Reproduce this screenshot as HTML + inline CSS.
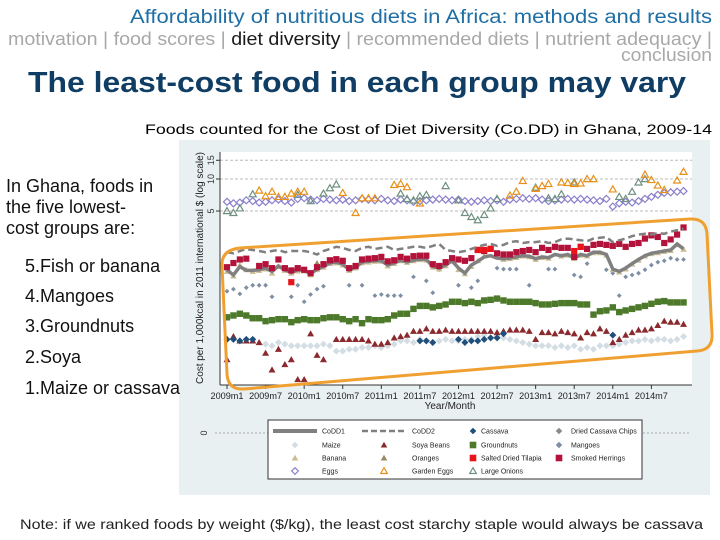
<!DOCTYPE html>
<html><head><meta charset="utf-8"><style>
html,body{margin:0;padding:0;background:#fff;}
svg{display:block;font-family:"Liberation Sans",sans-serif;}
</style></head><body>
<svg id="slide" width="720" height="540" viewBox="0 0 720 540">
  <text x="712" y="23" text-anchor="end" font-size="19" fill="#1f6fa5" textLength="582" lengthAdjust="spacingAndGlyphs">Affordability of nutritious diets in Africa: methods and results</text>
  <text x="8" y="45" font-size="18" fill="#a8a8a8" textLength="704" lengthAdjust="spacingAndGlyphs">motivation | food scores | <tspan fill="#1a1a1a">diet diversity</tspan> | recommended diets | nutrient adequacy |</text>
  <text x="712" y="61" text-anchor="end" font-size="18" fill="#a8a8a8" textLength="91" lengthAdjust="spacingAndGlyphs">conclusion</text>
  <text x="28" y="92" font-size="29" font-weight="bold" fill="#0f3d63" textLength="658" lengthAdjust="spacingAndGlyphs">The least-cost food in each group may vary</text>
  <text x="145" y="134" font-size="14" fill="#000" textLength="567" lengthAdjust="spacingAndGlyphs">Foods counted for the Cost of Diet Diversity (Co.DD) in Ghana, 2009-14</text>

  <rect x="179" y="140" width="531" height="355" fill="#e9f0f2"/>
  <rect x="220" y="152" width="472" height="233" fill="#ffffff"/>
  <g id="grid"></g>
  <line x1="220" y1="152" x2="220" y2="385" stroke="#333" stroke-width="1"/>
  <line x1="220" y1="385" x2="692" y2="385" stroke="#333" stroke-width="1"/>
  <text transform="translate(203,268) rotate(-90)" text-anchor="middle" font-size="10" fill="#222" textLength="232" lengthAdjust="spacingAndGlyphs">Cost per 1,000kcal in 2011 international $ (log scale)</text>
  <text x="450" y="409" text-anchor="middle" font-size="10" fill="#222">Year/Month</text>
  <g id="xticks"></g>
  <g id="series"></g>

  <line x1="215" y1="433" x2="690" y2="433" stroke="#aaa" stroke-dasharray="2,2"/>
  <text transform="translate(207,433) rotate(-90)" text-anchor="middle" font-size="9" fill="#333">0</text>
  <g id="legend">
    <rect x="268" y="420" width="374" height="59" fill="#fff" stroke="#333" stroke-width="1"/>
  </g>

  <path d="M 240,248 L 690,219 Q 706,218 707,234 L 712,334 Q 713,350 697,351 L 244,389 Q 228,390 227,374 L 222,266 Q 221,250 240,248 Z" fill="none" stroke="#f0a030" stroke-width="3"/>

  <g font-size="18" fill="#111">
    <text x="6" y="192">In Ghana, foods in</text>
    <text x="6" y="213">the five lowest-</text>
    <text x="6" y="234">cost groups are:</text>
    <text x="25" y="272">5.Fish or banana</text>
    <text x="25" y="302">4.Mangoes</text>
    <text x="25" y="332">3.Groundnuts</text>
    <text x="25" y="363">2.Soya</text>
    <text x="25" y="394">1.Maize or cassava</text>
  </g>
  <text x="20" y="529" font-size="14" fill="#222" textLength="683" lengthAdjust="spacingAndGlyphs">Note: if we ranked foods by weight ($/kg), the least cost starchy staple would always be cassava</text>
</svg>
<script>
const _ = null;
const xTickLabels = ["2009m1","2009m7","2010m1","2010m7","2011m1","2011m7","2012m1","2012m7","2013m1","2013m7","2014m1","2014m7"];
const yTicks = [5, 10, 15];
const codd1 = [1.40,1.25,1.50,1.38,1.38,1.40,1.45,1.35,1.52,1.40,1.32,1.40, 1.38,1.28,1.42,1.50,1.62,1.65,1.58,1.40,1.48,1.65,1.68,1.70, 1.70,1.55,1.62,1.72,1.66,1.72,1.76,1.75,1.50,1.45,1.55,1.70, 1.45,1.30,1.55,1.68,1.85,1.90,1.80,1.78,1.80,1.85,1.90,1.88, 1.78,1.85,1.82,1.95,1.90,1.95,1.80,1.95,1.90,2.05,2.05,1.95, 1.42,1.35,1.45,1.60,1.75,1.90,2.00,2.05,2.10,2.15,2.45,2.20];
const codd2 = [2.05,2.00,2.10,2.20,2.15,2.10,2.05,2.10,2.15,2.05,2.10,2.10, 2.10,2.05,1.95,2.10,2.20,2.30,2.25,2.15,2.10,2.25,2.30,2.20, 2.25,2.30,2.15,2.20,2.25,2.30,2.30,2.25,2.35,2.45,2.15,2.10, 2.05,2.10,2.20,2.30,2.40,2.45,2.35,2.40,2.55,2.60,2.50,2.55, 2.55,2.60,2.50,2.55,2.70,2.75,2.70,2.65,2.60,2.75,2.80,2.85, 2.55,2.65,2.75,2.90,3.00,3.05,3.00,3.10,3.05,3.20,3.30,3.40];
const banana = [1.35,1.22,1.55,1.40,1.35,1.38,1.42,1.30,1.50,1.38,1.30,1.36, 1.36,1.25,1.40,1.48,1.60,1.62,1.55,1.38,1.45,1.62,1.65,1.68, 1.68,1.52,1.60,1.70,1.64,1.70,1.74,1.72,1.48,1.42,1.52,1.68, 1.40,1.28,1.50,1.70,1.88,2.20,1.85,1.75,1.78,1.82,1.88,1.85, 1.75,1.82,1.80,2.25,1.88,1.92,1.78,1.92,1.88,2.02,2.02,1.92, 1.40,1.33,1.42,1.58,1.72,1.88,1.98,2.02,2.08,2.12,2.40,2.18];
const herrings = [1.48,1.62,1.75,1.78,_,1.52,1.58,1.45,1.75,1.45,1.38,1.45, 1.40,1.30,1.48,1.58,1.72,1.76,1.70,1.45,1.52,1.75,1.78,1.80, 1.85,1.68,1.72,1.85,1.78,1.88,1.90,1.90,1.58,1.52,1.65,1.80, 1.75,1.70,1.80,2.15,2.10,2.20,2.00,1.95,1.95,2.05,2.10,2.15, 2.05,2.25,2.15,2.30,2.25,2.25,1.85,2.30,2.20,2.40,2.45,2.40, 2.35,2.45,2.30,2.45,2.50,2.75,2.95,2.85,2.50,2.70,3.00,3.50];
const tilapia = [_,_,_,_,_,_,_,_,_,_,1.07,_, _,_,_,_,_,_,_,_,_,_,_,_, _,_,_,_,_,_,_,_,_,_,_,_, _,_,_,2.15,2.15,2.20,_,_,_,_,_,_, _,_,_,_,_,_,2.10,2.30,_,_,_,_, _,_,_,_,_,_,_,_,_,_,_,_];
const mangoes = [0.88,0.92,0.83,0.95,1.00,1.00,1.00,0.78,_,_,0.78,1.00, 0.70,0.82,0.92,0.98,_,_,_,1.00,_,1.00,_,0.80, 0.82,0.80,0.80,0.80,_,1.20,_,1.10,0.85,1.40,_,_, 1.00,_,0.95,1.10,_,_,1.45,1.42,1.42,1.42,_,1.00, _,_,1.42,1.42,_,_,1.25,1.20,1.60,_,_,1.40, 1.30,0.80,1.20,1.25,1.30,1.40,1.55,1.65,1.70,1.80,1.75,1.75];
const groundnuts = [0.50,0.52,0.54,0.52,0.49,0.49,0.46,0.47,0.48,0.48,0.45,0.47, 0.48,0.47,0.47,0.49,0.50,0.50,0.48,0.46,0.48,0.44,0.48,0.47, 0.47,0.48,0.52,0.54,0.54,0.60,0.64,0.64,0.62,0.64,0.66,0.70, 0.70,0.68,0.70,0.68,0.72,0.73,0.75,0.72,0.70,0.70,0.70,0.70, 0.68,0.66,0.66,0.67,0.68,0.68,0.68,0.66,0.66,0.53,0.57,0.58, 0.62,0.56,0.58,0.60,0.62,0.64,0.67,0.70,0.71,0.69,0.69,0.69];
const soya = [0.20,0.33,0.30,0.30,0.30,0.29,0.23,0.16,0.25,0.18,0.20,0.13, 0.13,0.35,0.22,0.20,_,0.31,0.31,0.31,0.31,0.31,0.30,0.28, 0.28,0.29,0.32,0.33,0.34,0.37,0.37,0.39,0.37,0.37,0.38,0.37, 0.37,0.37,0.37,0.37,0.37,0.37,0.36,0.37,0.38,0.38,0.38,0.37, 0.31,0.36,0.36,0.35,0.37,0.36,0.35,0.32,0.36,0.35,0.39,0.37, 0.29,0.31,0.34,0.36,0.38,0.38,0.39,0.42,0.46,0.45,0.45,0.43];
const maize = [_,_,_,_,_,_,0.28,0.27,0.29,0.28,0.27,0.27, 0.27,0.27,0.27,0.28,0.27,0.24,0.24,0.25,0.25,0.26,0.26,0.27, 0.26,0.27,0.28,0.30,0.30,0.29,0.31,0.30,0.29,0.30,0.31,0.30, 0.30,0.31,0.31,0.33,0.34,0.32,0.33,0.32,0.31,0.30,0.29,0.28, 0.27,0.27,0.27,0.26,0.27,0.26,0.27,0.25,0.26,0.25,0.27,0.27, 0.27,0.28,0.29,0.30,0.30,0.31,0.30,0.31,0.31,0.30,0.31,0.33];
const cassava = [0.31,0.31,0.30,0.31,0.31,_,_,_,_,_,_,_, _,_,_,_,_,_,_,_,_,_,_,_, _,_,_,_,_,_,0.30,0.30,0.29,_,_,_, 0.31,0.29,0.30,0.30,0.31,0.32,0.32,0.35,_,_,_,_, _,_,_,_,_,_,_,_,_,_,_,_, 0.34,_,_,_,_,_,_,_,_,_,_,_];
const oranges = [_,_,_,_,_,_,_,_,_,_,_,_, _,_,1.62,_,_,_,_,_,_,_,_,_, _,_,_,_,_,_,_,_,_,_,_,_, _,_,_,_,_,_,_,_,_,_,_,_, _,_,_,_,_,_,_,_,_,_,_,_, _,_,_,_,_,_,_,_,_,_,_,_];
const eggs = [6.1,5.9,6.0,6.3,6.2,6.0,6.1,6.3,6.4,6.2,6.0,6.5, 6.6,6.4,6.3,6.5,6.4,6.3,6.4,6.2,6.3,6.5,6.4,6.3, 6.5,6.3,6.2,6.4,6.3,6.1,6.2,6.3,6.4,6.5,6.4,6.3, 6.4,6.2,6.1,6.2,6.3,6.2,6.3,6.1,6.4,6.5,6.6,6.5, 6.6,6.4,6.2,6.3,6.4,6.5,6.4,6.5,6.4,6.3,6.2,6.5, 5.5,5.9,6.1,6.0,6.2,6.5,6.8,7.1,7.4,7.5,7.6,7.7];
const gardenEggs = [_,_,_,_,_,7.8,6.9,7.6,6.8,6.8,7.3,7.6, 7.6,_,_,_,_,_,7.4,_,4.8,6.6,6.6,6.6, _,_,8.8,9.0,8.4,_,5.9,_,_,_,_,_, _,_,_,_,_,_,_,_,7.0,7.6,9.6,_, 8.1,8.6,9.0,_,9.3,9.2,9.0,9.1,10.0,10.0,_,_, 8.0,_,_,_,_,11.0,9.8,8.7,7.9,_,9.7,11.7];
const largeOnions = [5.0,4.8,5.3,_,7.2,_,_,_,_,_,_,7.1, _,6.2,_,7.3,8.2,8.9,_,_,_,_,_,_, _,_,_,7.3,6.5,6.3,6.9,7.1,_,_,8.6,_, 6.3,4.8,4.4,4.1,4.6,5.3,6.5,_,_,_,_,_, 8.3,_,6.6,6.5,7.2,_,9.3,_,_,_,_,_, _,6.8,6.5,7.6,9.3,10.0,_,_,_,_,_,_];

const NS = "http://www.w3.org/2000/svg";
function xScale(i){ return 227 + i * 6.43; }
function yScale(v){ return 211 - 32 * Math.log2(v / 5); }
function mk(tag, attrs, parent){ const e = document.createElementNS(NS, tag); for (const k in attrs) e.setAttribute(k, attrs[k]); parent.appendChild(e); return e; }

const grid = document.getElementById('grid');
yTicks.forEach(function(t){
  const y = yScale(t);
  const gl = mk('line', {x1:220, x2:692, y1:y, y2:y, stroke:'#bbb', 'stroke-dasharray':'3,2'}, grid);
  
  
  const tk = mk('line', {x1:216, x2:220, y1:y, y2:y, stroke:'#333'}, grid);
  
  
  const lb = mk('text', {transform:'translate(214,' + y + ') rotate(-90)', 'text-anchor':'middle', 'font-size':'9', fill:'#333'}, grid);
  lb.textContent = t;
  
  
});
const xt = document.getElementById('xticks');
xTickLabels.forEach(function(l, k){
  const x = xScale(k * 6);
  const tk = mk('line', {x1:x, x2:x, y1:385, y2:389, stroke:'#333'}, xt);
  
  
  const t = mk('text', {x:x, y:399, 'text-anchor':'middle', 'font-size':'9', fill:'#222', textLength:'33', lengthAdjust:'spacingAndGlyphs'}, xt);
  t.textContent = l;
  
  
});

function marker(g, shape, cx, cy, s, color, hollow){
  let e;
  const fill = hollow ? 'none' : color;
  const sw = hollow ? 1.2 : 0;
  if (shape === 'diamond') e = mk('polygon', {points:(cx)+','+(cy-s)+' '+(cx+s)+','+cy+' '+cx+','+(cy+s)+' '+(cx-s)+','+cy, fill:fill, stroke:color, 'stroke-width':sw}, g);
  else if (shape === 'triangle') e = mk('polygon', {points:cx+','+(cy-s)+' '+(cx+s)+','+(cy+s*0.75)+' '+(cx-s)+','+(cy+s*0.75), fill:fill, stroke:color, 'stroke-width':sw}, g);
  else e = mk('rect', {x:cx-s, y:cy-s, width:2*s, height:2*s, fill:fill}, g);
  return e;
}
const sg = document.getElementById('series');
function drawLine(vals, name, attrs){
  let d = '';
  vals.forEach(function(v, i){ if (v !== null) d += (d ? ' L ' : 'M ') + xScale(i).toFixed(1) + ',' + yScale(v).toFixed(1); });
  const p = mk('path', Object.assign({d:d, fill:'none'}, attrs), sg);
  
  
}
function drawPoints(vals, name, shape, s, color, hollow){
  const g = mk('g', {}, sg);
  
  
  vals.forEach(function(v, i){
    if (v === null) return;
    const m = marker(g, shape, xScale(i), yScale(v), s, color, hollow);
    
    
  });
}
drawPoints(maize, 'maize-series', 'diamond', 3.5, '#d3dde4', false);
drawPoints(soya, 'soya-series', 'triangle', 3.5, '#8b2a2e', false);
drawPoints(cassava, 'cassava-series', 'diamond', 3.5, '#1f4f7a', false);
drawPoints(groundnuts, 'groundnuts-series', 'square', 3.2, '#4d7a2a', false);
drawPoints(mangoes, 'mangoes-series', 'diamond', 2.4, '#7f8fa3', false);
drawPoints(banana, 'banana-series', 'triangle', 3.2, '#c9bc8e', false);
drawLine(codd1, 'codd1-line', {stroke:'#808080', 'stroke-width':3.5});
drawPoints(oranges, 'oranges-series', 'triangle', 3.0, '#9a8a66', false);
drawPoints(herrings, 'smoked-herrings-series', 'square', 3.1, '#b3133a', false);
drawPoints(tilapia, 'tilapia-series', 'square', 3.1, '#e8141a', false);
drawLine(codd2, 'codd2-line', {stroke:'#808080', 'stroke-width':2.5, 'stroke-dasharray':'7,4'});
drawPoints(eggs, 'eggs-series', 'diamond', 3.5, '#8a7fcc', true);
drawPoints(largeOnions, 'large-onions-series', 'triangle', 3.5, '#6f9080', true);
drawPoints(gardenEggs, 'garden-eggs-series', 'triangle', 3.5, '#e8901a', true);

const lg = document.getElementById('legend');
const legendItems = [
  [295,431,'line','#808080','CoDD1',false],[384,431,'dash','#808080','CoDD2',false],[473,431,'diamond','#1f4f7a','Cassava',false],[559,431,'diamond','#8a8a8a','Dried Cassava Chips',false],
  [295,445,'diamond','#d3dde4','Maize',false],[384,445,'triangle','#8b2a2e','Soya Beans',false],[473,445,'square','#4d7a2a','Groundnuts',false],[559,445,'diamond','#7f8fa3','Mangoes',false],
  [295,458,'triangle','#c9bc8e','Banana',false],[384,458,'triangle','#9a8a66','Oranges',false],[473,458,'square','#e8141a','Salted Dried Tilapia',false],[559,458,'square','#b3133a','Smoked Herrings',false],
  [295,471,'diamond','#8a7fcc','Eggs',true],[384,471,'triangle','#e8901a','Garden Eggs',true],[473,471,'triangle','#6f9080','Large Onions',true]
];
const textX = {295:322, 384:412, 473:481, 559:571};
legendItems.forEach(function(it){
  const g = mk('g', {}, lg);
  
  
  if (it[2] === 'line') mk('line', {x1:273, x2:317, y1:it[1], y2:it[1], stroke:it[3], 'stroke-width':4}, g);
  else if (it[2] === 'dash') mk('line', {x1:362, x2:407, y1:it[1], y2:it[1], stroke:it[3], 'stroke-width':2.5, 'stroke-dasharray':'6,3'}, g);
  else marker(g, it[2], it[0], it[1], 3.3, it[3], it[5]);
  const t = mk('text', {x:textX[it[0]], y:it[1] + 2.5, 'font-size':'7', fill:'#222'}, g);
  t.textContent = it[4];
});
</script>
</body></html>
